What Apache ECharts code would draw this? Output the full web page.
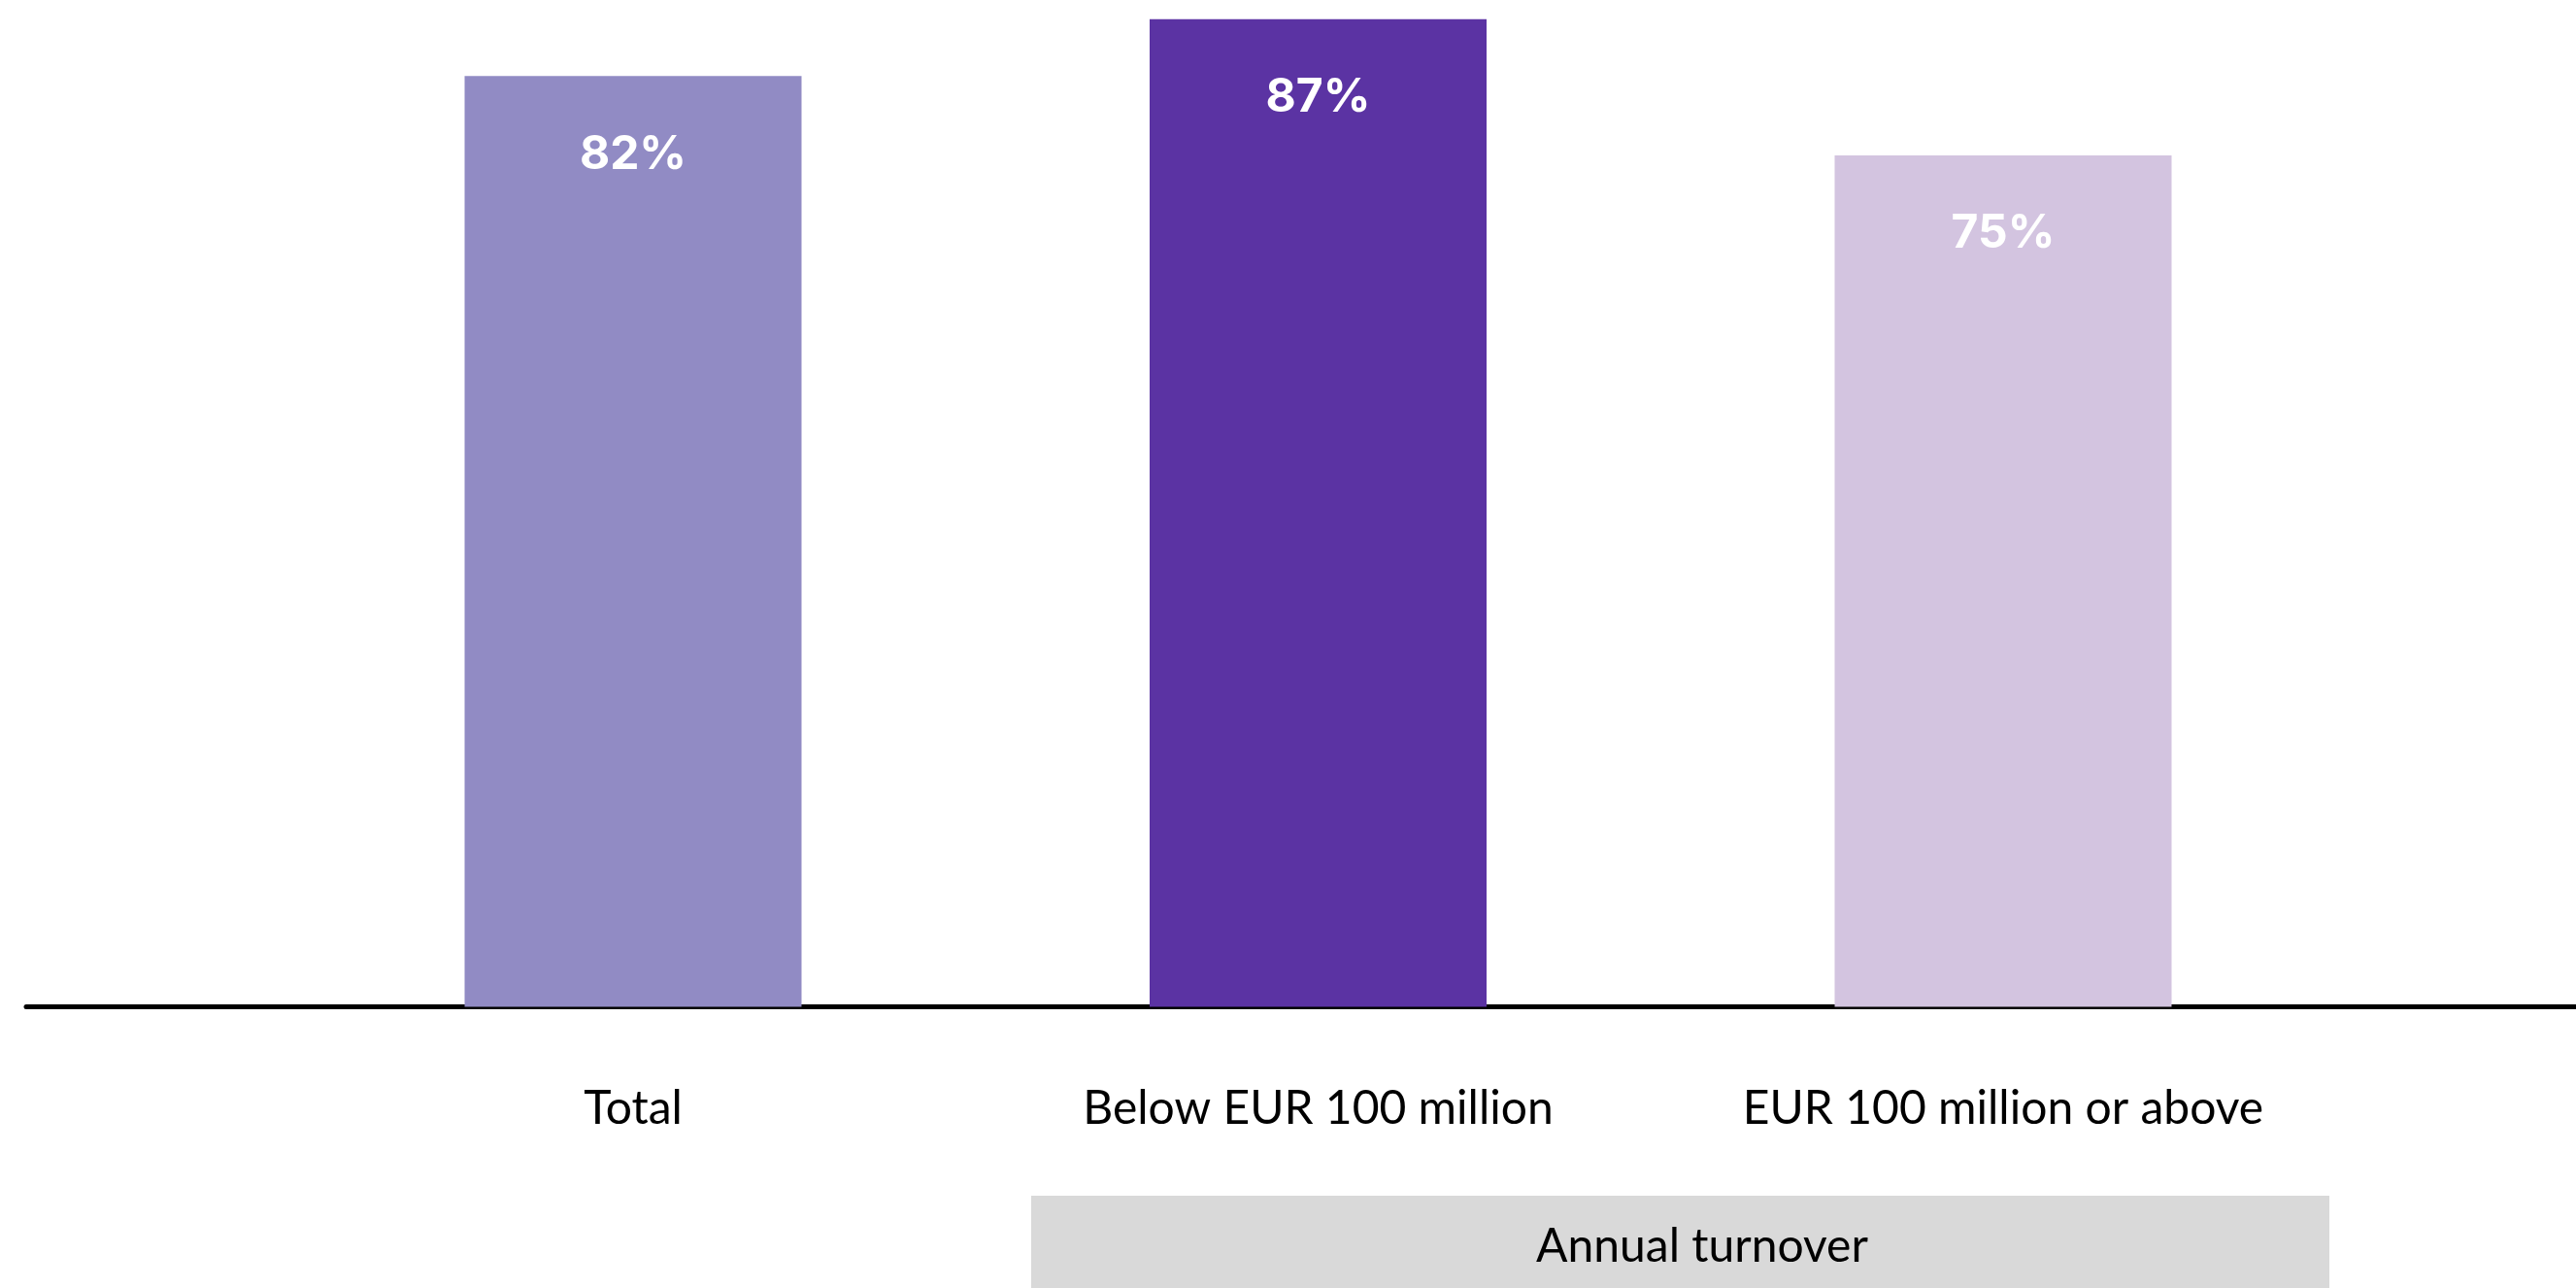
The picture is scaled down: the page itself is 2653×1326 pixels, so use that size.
<!DOCTYPE html>
<html>
<head>
<meta charset="utf-8">
<title>Share by annual turnover</title>
<script src="https://cdn.jsdelivr.net/npm/echarts@6/dist/echarts.min.js"></script>
<style>
  html, body { margin: 0; padding: 0; background: #ffffff; }
  #chart { width: 2653px; height: 1326px; }
</style>
</head>
<body>
<div id="chart"></div>
<script>
// Categories and their shares (%)
const categories = ['Total', 'Below EUR 100 million', 'EUR 100 million or above'];
const shares = [82, 87, 75];
const groupLabel = 'Annual turnover';

// Style constants
const palette = ['#918bc4', '#5b33a3', '#d3c4e0'];
const FONT = 'Lato, "Noto Sans", sans-serif';
const VALUE_FONT = 'Inter, Lato, sans-serif';

const chart = echarts.init(document.getElementById('chart'), null, { renderer: 'canvas' });

const gridTop = 8;
const gridBottom = 289.5;

chart.setOption({
  backgroundColor: '#ffffff',
  animation: false,
  grid: [
    { left: 299.25, right: 237.25, top: gridTop, bottom: gridBottom },
    // full-width baseline
    { left: 27, right: 0, top: gridTop, bottom: gridBottom }
  ],
  xAxis: [
    {
      type: 'category',
      gridIndex: 0,
      data: categories,
      axisLine: { show: false },
      axisTick: { show: false },
      axisLabel: {
        color: '#000000',
        fontFamily: FONT,
        fontSize: 48,
        margin: 81
      }
    },
    {
      type: 'value',
      gridIndex: 1,
      min: 0,
      max: 1,
      axisLine: { show: true, onZero: false, lineStyle: { color: '#000000', width: 5 } },
      axisTick: { show: false },
      axisLabel: { show: false },
      splitLine: { show: false }
    }
  ],
  yAxis: [
    {
      type: 'value',
      gridIndex: 0,
      min: 0,
      max: 88,
      show: false,
      splitLine: { show: false }
    },
    {
      type: 'value',
      gridIndex: 1,
      show: false,
      splitLine: { show: false }
    }
  ],
  series: [
    {
      type: 'bar',
      xAxisIndex: 0,
      yAxisIndex: 0,
      z: 1,
      barWidth: 347,
      data: shares.map((v, i) => ({ value: v, itemStyle: { color: palette[i] } })),
      label: {
        show: true,
        position: 'insideTop',
        distance: 57,
        formatter: '{c}%',
        color: '#ffffff',
        fontFamily: VALUE_FONT,
        fontWeight: 'bold',
        fontSize: 48
      }
    }
  ],
  graphic: [
    {
      type: 'rect',
      left: 1062,
      top: 1231,
      shape: { width: 1337, height: 100 },
      style: { fill: '#d9d9d9' },
      z: 0
    },
    {
      type: 'text',
      x: 1753,
      y: 1284,
      style: {
        text: groupLabel,
        fill: '#000000',
        font: '48px ' + FONT,
        textAlign: 'center',
        textVerticalAlign: 'middle'
      },
      z: 1
    }
  ]
});
</script>
</body>
</html>
